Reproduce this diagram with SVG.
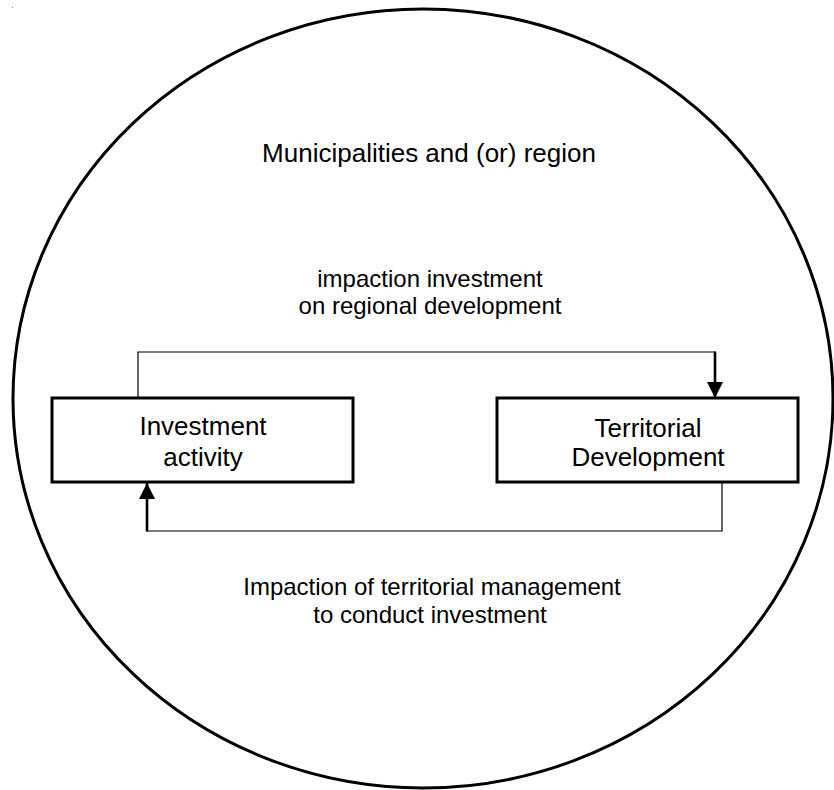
<svg xmlns="http://www.w3.org/2000/svg" width="834" height="790" viewBox="0 0 834 790">
<style>
text{font-family:"Liberation Sans",Arial,sans-serif;fill:#000;text-anchor:middle}
.box{fill:#fff;stroke:#000;stroke-width:3}
.thin{fill:none;stroke:#000;stroke-width:1.2}
.thick{fill:none;stroke:#000;stroke-width:2.6}
</style>
<defs>
<marker id="ah" markerUnits="userSpaceOnUse" markerWidth="17" markerHeight="17" refX="16" refY="8" orient="auto">
<path d="M0,0 L16,8 L0,16 Z" fill="#000"/>
</marker>
</defs>
<rect x="12" y="7" width="1" height="1" fill="#888"/>
<g id="region">
<ellipse cx="423" cy="398.5" rx="410" ry="389.5" fill="none" stroke="#000" stroke-width="3"/>
<text x="429" y="162" font-size="26">Municipalities and (or) region</text>
</g>
<g id="connectors">
<path class="thin" d="M138,398 V352 H715"/>
<path class="thick" d="M715,351.5 V398" marker-end="url(#ah)"/>
<path class="thin" d="M722,482 V531 H147"/>
<path class="thick" d="M147,531.5 V483" marker-end="url(#ah)"/>
<text x="430" y="287" font-size="24">impaction investment</text>
<text x="430" y="314" font-size="24">on regional development</text>
<text x="432" y="595" font-size="24">Impaction of territorial management</text>
<text x="430" y="623" font-size="24">to conduct investment</text>
</g>
<g id="investment">
<rect class="box" x="52" y="398" width="301" height="84"/>
<text x="203" y="435" font-size="26">Investment</text>
<text x="203" y="466" font-size="26">activity</text>
</g>
<g id="territorial">
<rect class="box" x="497" y="398" width="301" height="84"/>
<text x="648" y="437" font-size="26">Territorial</text>
<text x="648" y="466" font-size="26">Development</text>
</g>
</svg>
